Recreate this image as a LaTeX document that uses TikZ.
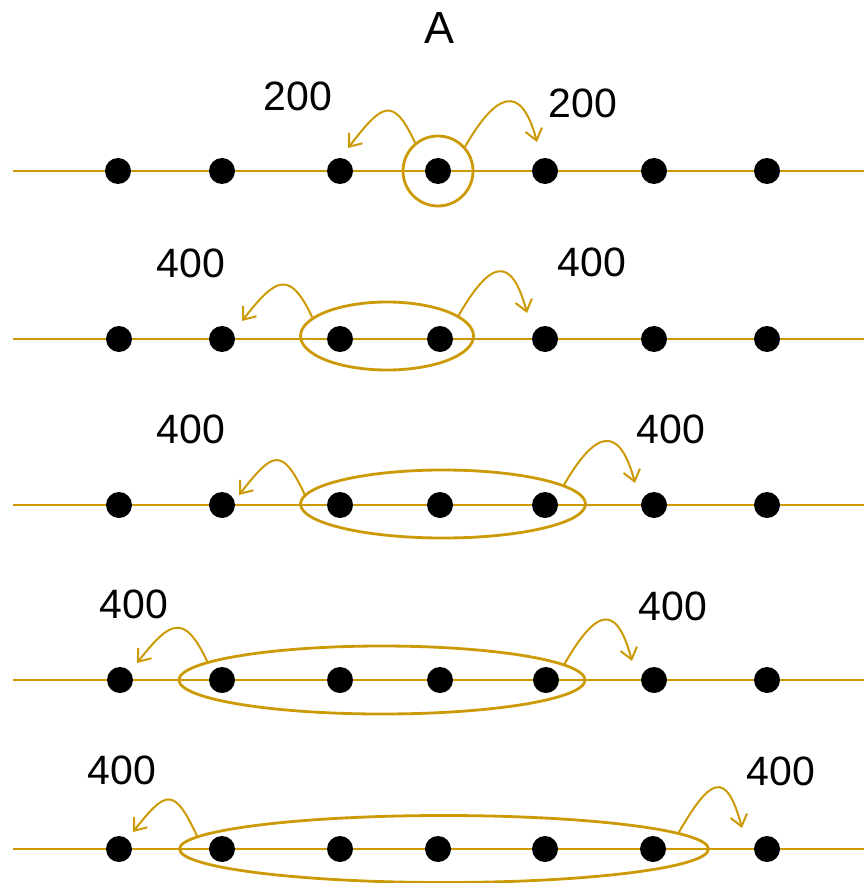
\documentclass[tikz,border=0pt]{standalone}
\usepackage{fontspec}
\setmainfont{Liberation Sans}
\usetikzlibrary{arrows.meta, calc, shapes.geometric}
\definecolor{hopgold}{HTML}{CC9A06}

\begin{document}
\begin{tikzpicture}[x=1pt, y=1pt,
    bead/.style={circle, fill=black, minimum size=26pt, inner sep=0pt},
    rail/.style={draw=hopgold, line width=2pt},
    ring/.style={ellipse, draw=hopgold, line width=2.8pt, inner sep=0pt, minimum height=68pt},
    hop/.style={draw=hopgold, line width=2pt, -{Straight Barb[length=11pt, width=17pt]}},
    hopleft/.style={hop, out=115, in=52, distance=54pt},
    hopright/.style={hop, out=60, in=105, distance=62pt},
    numlabel/.style={font=\fontsize{41}{49}\selectfont, inner sep=0pt}
  ]
    \useasboundingbox (0,0) rectangle (864,-883);

    \node[font=\fontsize{45}{54}\selectfont, inner sep=0pt] (title) at (440,-28) {A};

    % Row 1: one site
    \draw[rail] (13,-171) -- (864,-171);
    \node[ring, minimum width=70pt, minimum height=70pt] (e1) at (438,-171) {};
    \foreach \x [count=\i] in {118,222,340,438,545,654,767}
      \node[bead] (d1-\i) at (\x,-171) {};
    \coordinate (t1l) at ($(d1-3)+(8,23)$);
    \coordinate (t1r) at ($(d1-5)+(-8,29)$);
    \draw[hopleft] (e1.129) to (t1l);
    \draw[hopright] (e1.42) to (t1r);
    \node[numlabel] (n1l) at (298,-96) {200};
    \node[numlabel] (n1r) at (583,-103) {200};

    % Row 2: two sites
    \draw[rail] (13,-339) -- (864,-339);
    \node[ring, minimum width=173pt] (e2) at (387,-336) {};
    \foreach \x [count=\i] in {119,222,340,440,545,654,767}
      \node[bead] (d2-\i) at (\x,-339) {};
    \coordinate (t2l) at ($(d2-2)+(20,18)$);
    \coordinate (t2r) at ($(d2-5)+(-18,26)$);
    \draw[hopleft] (e2.166) to (t2l);
    \draw[hopright] (e2.16) to (t2r);
    \node[numlabel] (n2l) at (191,-263) {400};
    \node[numlabel] (n2r) at (592,-262) {400};

    % Row 3: three sites
    \draw[rail] (13,-505) -- (864,-505);
    \node[ring, minimum width=285pt] (e3) at (443,-504) {};
    \foreach \x [count=\i] in {119,222,340,440,545,654,767}
      \node[bead] (d3-\i) at (\x,-505) {};
    \coordinate (t3l) at ($(d3-2)+(17,10)$);
    \coordinate (t3r) at ($(d3-6)+(-19,22)$);
    \draw[hopleft] (e3.176) to (t3l);
    \draw[hopright] (e3.9) to (t3r);
    \node[numlabel] (n3l) at (191,-429) {400};
    \node[numlabel] (n3r) at (671,-429) {400};

    % Row 4: four sites
    \draw[rail] (13,-680) -- (864,-680);
    \node[ring, minimum width=406pt] (e4) at (382,-680) {};
    \foreach \x [count=\i] in {120,222,340,440,546,654,767}
      \node[bead] (d4-\i) at (\x,-680) {};
    \coordinate (t4l) at ($(d4-1)+(17,17)$);
    \coordinate (t4r) at ($(d4-6)+(-22,19)$);
    \draw[hopleft] (e4.174) to (t4l);
    \draw[hopright] (e4.5) to (t4r);
    \node[numlabel] (n4l) at (134,-604) {400};
    \node[numlabel] (n4r) at (673,-606) {400};

    % Row 5: five sites
    \draw[rail] (13,-849) -- (864,-849);
    \node[ring, minimum width=529pt, minimum height=67pt] (e5) at (444,-849) {};
    \foreach \x [count=\i] in {119,222,340,438,545,653,767}
      \node[bead] (d5-\i) at (\x,-849) {};
    \coordinate (t5l) at ($(d5-1)+(14,17)$);
    \coordinate (t5r) at ($(d5-7)+(-25,21)$);
    \draw[hopleft] (e5.177) to (t5l);
    \draw[hopright] (e5.4) to (t5r);
    \node[numlabel] (n5l) at (122,-770) {400};
    \node[numlabel] (n5r) at (781,-771) {400};
  \end{tikzpicture}
\end{document}
